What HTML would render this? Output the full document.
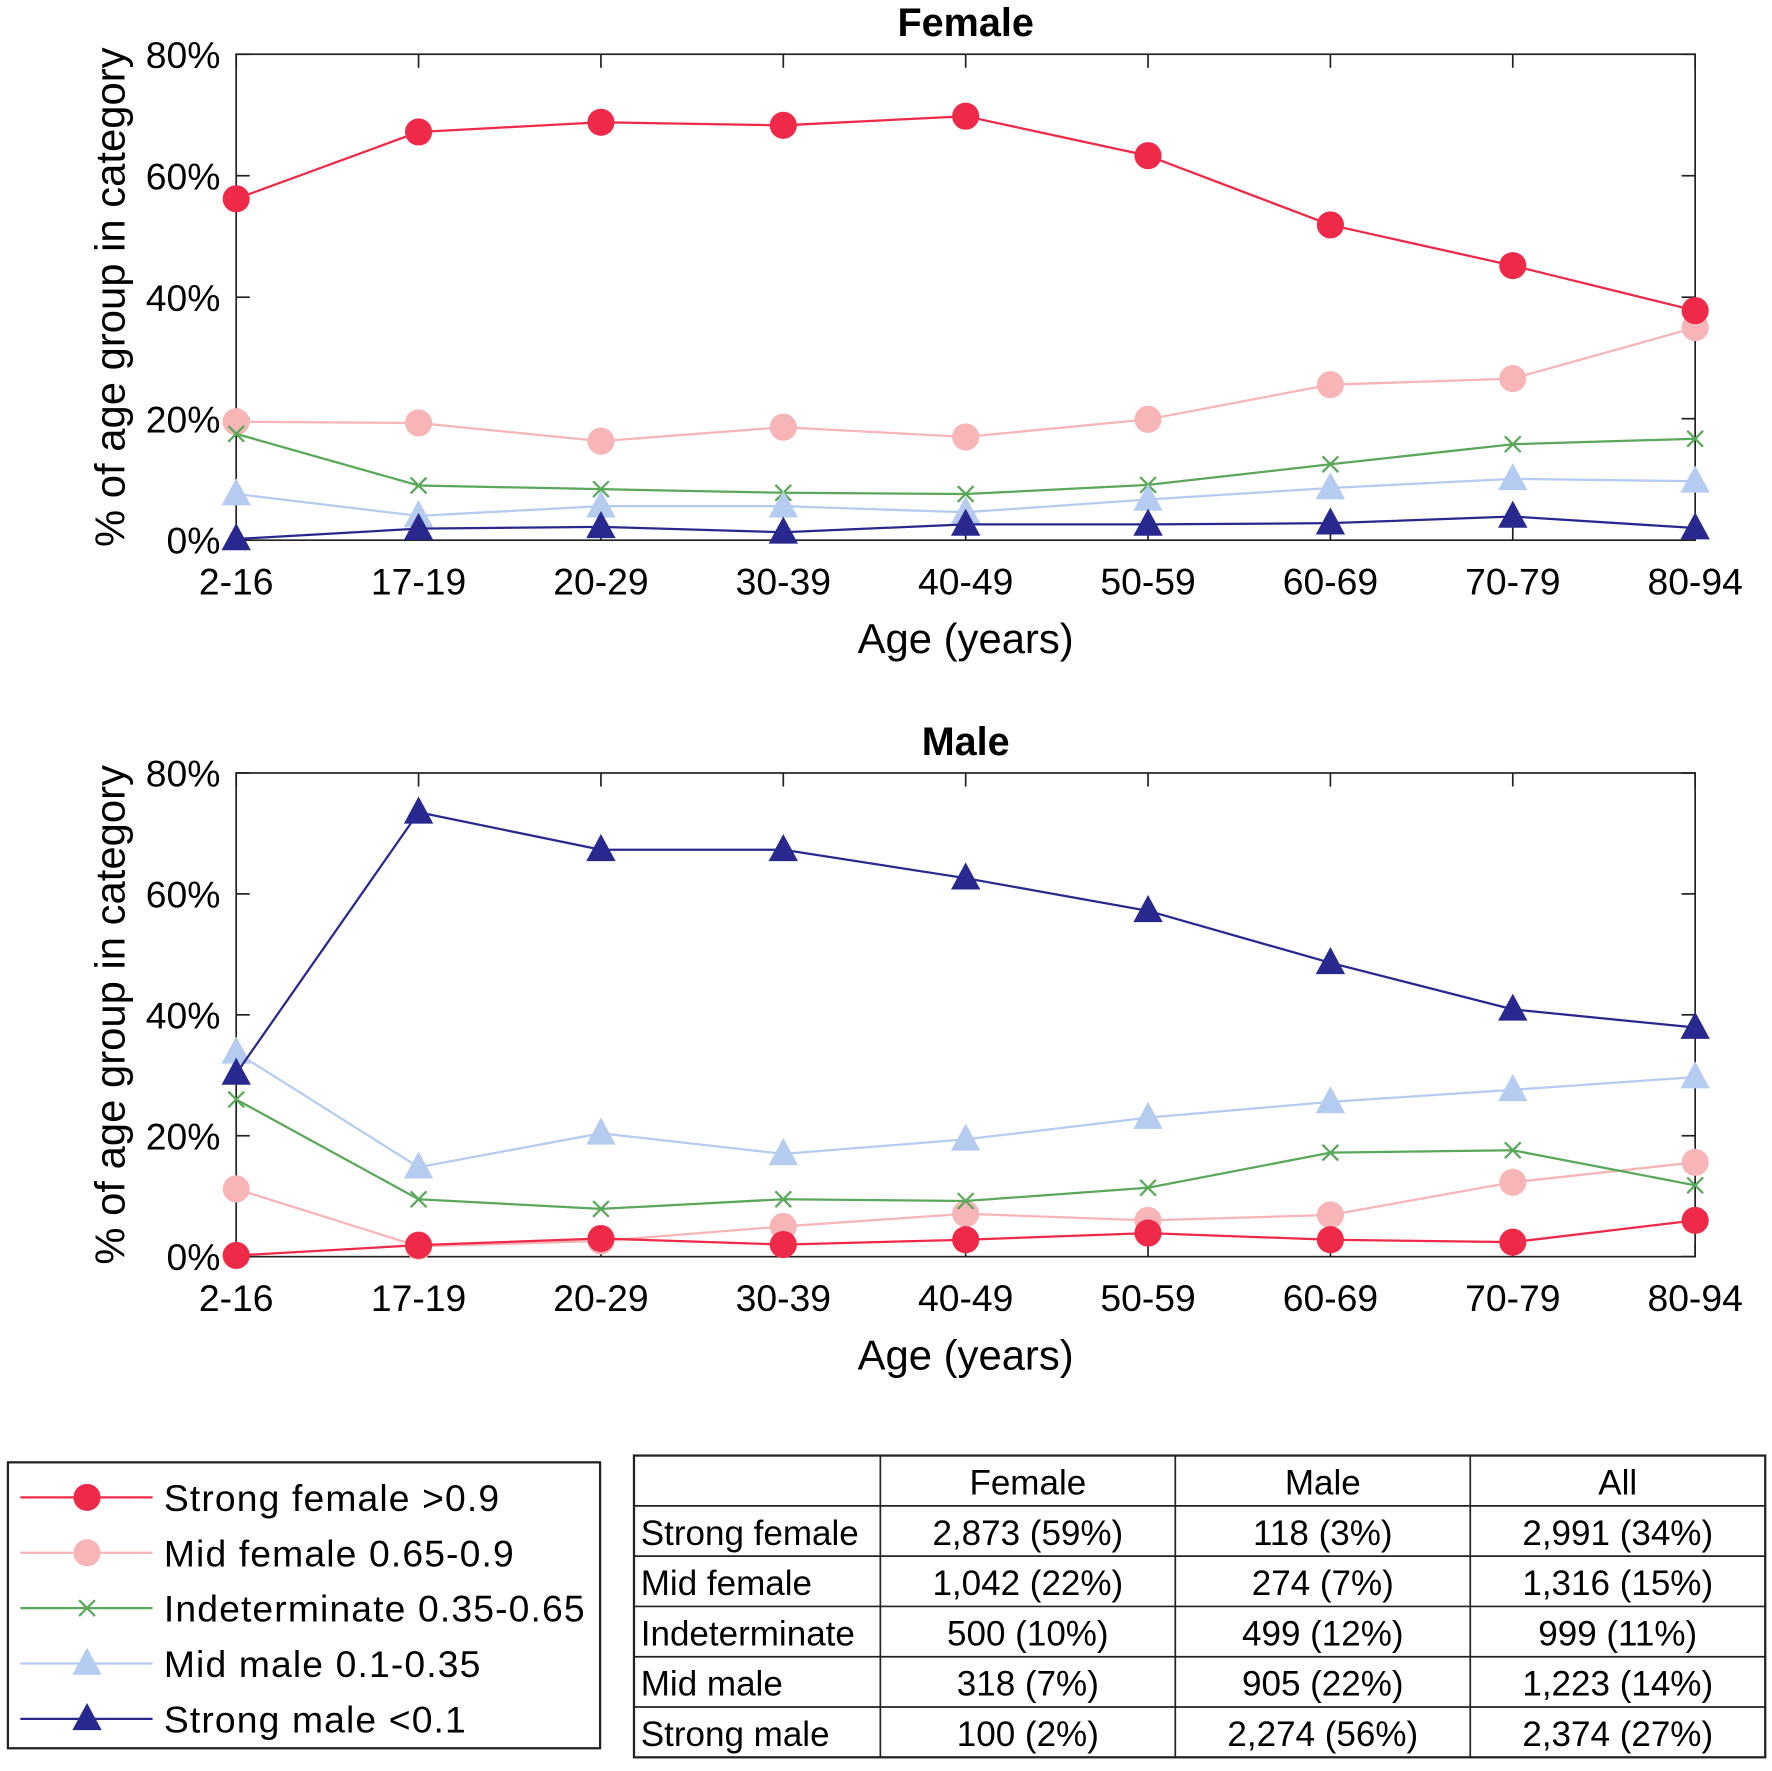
<!DOCTYPE html>
<html><head><meta charset="utf-8"><style>
body{margin:0;background:#fff;width:1772px;height:1766px;overflow:hidden}
svg text{font-family:"Liberation Sans",Arial,sans-serif}
</style></head><body>
<svg id="s" width="1772" height="1766" viewBox="0 0 1568 1562.7" xmlns="http://www.w3.org/2000/svg"></svg>
<script>
const categories=["2-16","17-19","20-29","30-39","40-49","50-59","60-69","70-79","80-94"];
const yTicks=[0,20,40,60,80];
const femaleStrongF=[56.2,67.2,68.8,68.3,69.8,63.3,51.9,45.2,37.8];
const femaleMidF=[19.5,19.3,16.3,18.6,17,19.9,25.6,26.6,35];
const femaleIndet=[17.5,9,8.4,7.8,7.6,9.1,12.5,15.8,16.7];
const femaleMidM=[7.6,4,5.6,5.6,4.6,6.7,8.6,10.1,9.7];
const femaleStrongM=[0.2,1.9,2.2,1.3,2.6,2.6,2.8,3.9,2];
const maleStrongF=[0.2,1.9,3,2,2.8,3.9,2.8,2.4,6];
const maleMidF=[11.2,1.7,2.6,5,7.1,6,6.9,12.3,15.6];
const maleIndet=[26,9.5,7.9,9.5,9.2,11.4,17.2,17.6,11.8];
const maleMidM=[33.8,14.8,20.4,17,19.4,23,25.6,27.6,29.7];
const maleStrongM=[30.3,73.5,67.3,67.3,62.6,57.2,48.6,40.9,37.9];
const seriesNames=["Strong female >0.9","Mid female 0.65-0.9","Indeterminate 0.35-0.65","Mid male 0.1-0.35","Strong male <0.1"];
const colors=["#ee2a48","#f7b5b8","#5aa85a","#b5cbf0","#28288f"];
const markers=["circle","circle","x","tri","tri"];
const tableRows=[["Strong female","2,873 (59%)","118 (3%)","2,991 (34%)"],["Mid female","1,042 (22%)","274 (7%)","1,316 (15%)"],["Indeterminate","500 (10%)","499 (12%)","999 (11%)"],["Mid male","318 (7%)","905 (22%)","1,223 (14%)"],["Strong male","100 (2%)","2,274 (56%)","2,374 (27%)"]];
const S=document.getElementById('s');const NS="http://www.w3.org/2000/svg";
function mk(t,a,p){const e=document.createElementNS(NS,t);for(const k in a)e.setAttribute(k,a[k]);(p||S).appendChild(e);return e;}
function marker(type,x,y,c,g){
 if(type==="circle")return mk('circle',{cx:x,cy:y,r:12,fill:c},g);
 if(type==="x"){const gg=mk('g',{stroke:c,'stroke-width':2},g);mk('line',{x1:x-7,y1:y-7,x2:x+7,y2:y+7},gg);mk('line',{x1:x-7,y1:y+7,x2:x+7,y2:y-7},gg);return gg;}
 return mk('polygon',{points:`${x},${y-14} ${x+13},${y+10} ${x-13},${y+10}`,fill:c},g);
}
function chart(top,bottom,title,data,name){
 const L=209,R=1500;
 const xs=i=>L+i*(R-L)/(categories.length-1);
 const ys=v=>bottom-v*(bottom-top)/80;
 const g=mk('g',{});
 mk('rect',{x:L,y:top,width:R-L,height:bottom-top,fill:'none',stroke:'#222','stroke-width':1.5},g);
 const t=mk('text',{x:(L+R)/2,y:top-16,'text-anchor':'middle','font-size':35,'font-weight':'bold'},g);t.textContent=title;
 
 yTicks.forEach(v=>{const y=ys(v);mk('line',{x1:L,x2:L+12,y1:y,y2:y,stroke:'#222','stroke-width':1.5},g);mk('line',{x1:R,x2:R-12,y1:y,y2:y,stroke:'#222','stroke-width':1.5},g);
  const tt=mk('text',{x:L-14,y:y+12,'text-anchor':'end','font-size':33},g);tt.textContent=v+'%';});
 categories.forEach((c,i)=>{const x=xs(i);mk('line',{x1:x,x2:x,y1:bottom,y2:bottom-12,stroke:'#222','stroke-width':1.5},g);mk('line',{x1:x,x2:x,y1:top,y2:top+12,stroke:'#222','stroke-width':1.5},g);
  const tt=mk('text',{x:x,y:bottom+48,'text-anchor':'middle','font-size':33},g);tt.textContent=c;});
 const xl=mk('text',{x:(L+R)/2,y:bottom+100,'text-anchor':'middle','font-size':37},g);xl.textContent='Age (years)';
 
 const yl=mk('text',{x:0,y:0,'text-anchor':'middle','font-size':37,transform:`translate(110,${(top+bottom)/2}) rotate(-90)`},g);yl.textContent='% of age group in category';
 
 const order=[1,2,3,0,4];
 order.forEach(k=>{const arr=data[k];const sg=mk('g',{},g);
  mk('polyline',{points:arr.map((v,i)=>xs(i)+','+ys(v)).join(' '),fill:'none',stroke:colors[k],'stroke-width':2},sg);
  arr.forEach((v,i)=>{const m=marker(markers[k],xs(i),ys(v),colors[k],sg);});});
}
chart(48,478,'Female',[femaleStrongF,femaleMidF,femaleIndet,femaleMidM,femaleStrongM],'female-chart');
chart(684,1112,'Male',[maleStrongF,maleMidF,maleIndet,maleMidM,maleStrongM],'male-chart');
const lg=mk('g',{});
mk('rect',{x:7,y:1294,width:524,height:253,fill:'#fff',stroke:'#222','stroke-width':2},lg);
seriesNames.forEach((n,k)=>{const y=1325+k*49;const eg=mk('g',{},lg);
 mk('line',{x1:18,x2:135,y1:y,y2:y,stroke:colors[k],'stroke-width':2},eg);marker(markers[k],77,y,colors[k],eg);
 const t=mk('text',{x:145,y:y+12,'font-size':33,'letter-spacing':1},eg);t.textContent=n;});
const tg=mk('g',{});
const cx=[561,779,1040,1301,1562],ry0=1288,rh=44.5;
mk('rect',{x:561,y:ry0,width:1001,height:rh*6,fill:'none',stroke:'#222','stroke-width':2},tg);
for(let i=1;i<4;i++)mk('line',{x1:cx[i],x2:cx[i],y1:ry0,y2:ry0+rh*6,stroke:'#222','stroke-width':1.5},tg);
for(let r=1;r<6;r++)mk('line',{x1:561,x2:1562,y1:ry0+r*rh,y2:ry0+r*rh,stroke:'#222','stroke-width':1.5},tg);
["Female","Male","All"].forEach((h,i)=>{const t=mk('text',{x:(cx[i+1]+cx[i+2])/2,y:ry0+rh-10,'text-anchor':'middle','font-size':31},tg);t.textContent=h;});
tableRows.forEach((row,r)=>row.forEach((c,i)=>{const y=ry0+(r+2)*rh-10;const t=mk('text',i?{x:(cx[i]+cx[i+1])/2,y:y,'text-anchor':'middle','font-size':31}:{x:567,y:y,'font-size':31},tg);t.textContent=c;}));
</script>
</body></html>
